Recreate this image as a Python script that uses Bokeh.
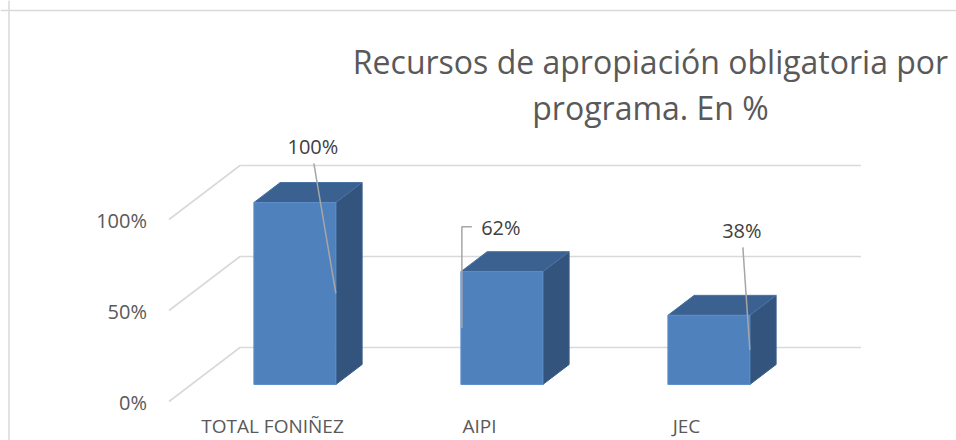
from bokeh.plotting import figure
from bokeh.models import Range1d, Span
from bokeh.core.properties import value
from bokeh.embed import file_html
from bokeh.resources import INLINE

# ---------------- data ----------------
categories = ["TOTAL FONIÑEZ", "AIPI", "JEC"]
shares = [1.00, 0.62, 0.38]
value_labels = ["100%", "62%", "38%"]
y_ticks = [0.0, 0.5, 1.0]
y_tick_labels = ["0%", "50%", "100%"]
title_lines = ["Recursos de apropiación obligatoria por", "programa. En %"]

# ---------------- geometry / style ----------------
W, H = 956, 440
PX_X = 207.0          # px per category unit
PX_Y = 182.0          # px per 100 %
X0 = 272.0            # canvas x of category 0 (front of floor)
Y0 = 401.0            # canvas y of value 0 (front of floor)
x_start, x_end = -X0 / PX_X, (W - X0) / PX_X
y_start, y_end = -(H - Y0) / PX_Y, Y0 / PX_Y

DX, DY = 71 / PX_X, 54 / PX_Y   # full depth of the 3D box
F0, F1 = 0.315, 0.685           # bar depth (front, back)
HW = 0.198                      # half bar width
CAT_MIN, CAT_MAX = -0.5, len(categories) - 0.5

# label offsets from bar's front-top centre, in px (right, up)
label_offsets = [(18, 56), (-1, 44), (33, 85)]
leader_kind = ["straight", "elbow", "straight"]

FRONT, TOP, SIDE = "#4F81BD", "#3B6190", "#32547D"
GRID = "#D9D9D9"
TXT = "#595959"
FONT = "Open Sans"


def P(u, v, f):
    return u + f * DX, v + f * DY


p = figure(width=W, height=H, output_backend="svg", toolbar_location=None,
           x_range=Range1d(x_start, x_end), y_range=Range1d(y_start, y_end),
           x_axis_type=None, y_axis_type=None,
           min_border=0, min_border_left=0, min_border_right=0,
           min_border_top=0, min_border_bottom=0)
p.outline_line_color = None
p.background_fill_color = "white"
p.border_fill_color = "white"
p.grid.visible = False

# chart-area border (top and left visible)
p.add_layout(Span(location=y_end - 10 / PX_Y, dimension="width",
                  line_color=GRID, line_width=1.5))
p.add_layout(Span(location=x_start + 8.5 / PX_X, dimension="height",
                  line_color=GRID, line_width=1.5))

# gridlines: back wall + side wall
gx, gy = [], []
for t in y_ticks:
    a = P(CAT_MIN, t, 1)
    b = P(CAT_MAX, t, 1)
    c = P(CAT_MIN, t, 0)
    gx.append([c[0], a[0], b[0]])
    gy.append([c[1], a[1], b[1]])
p.multi_line(gx, gy, line_color=GRID, line_width=1.6)

# bars
fx, fy, tx, ty, sx, sy = [], [], [], [], [], []
for i, val in enumerate(shares):
    l, r = i - HW, i + HW
    pts = [P(l, 0, F0), P(r, 0, F0), P(r, val, F0), P(l, val, F0)]
    fx.append([q[0] for q in pts]); fy.append([q[1] for q in pts])
    pts = [P(l, val, F0), P(r, val, F0), P(r, val, F1), P(l, val, F1)]
    tx.append([q[0] for q in pts]); ty.append([q[1] for q in pts])
    pts = [P(r, 0, F0), P(r, 0, F1), P(r, val, F1), P(r, val, F0)]
    sx.append([q[0] for q in pts]); sy.append([q[1] for q in pts])
p.patches(sx, sy, fill_color=SIDE, line_color="#3A5F8C", line_width=1)
p.patches(tx, ty, fill_color=TOP, line_color="#4A73A6", line_width=1)
p.patches(fx, fy, fill_color=FRONT, line_color="#5E8FCB", line_width=1)

# data labels + leader lines
lx, ly, lxs, lys = [], [], [], []
for i, val in enumerate(shares):
    ax, ay = P(i, val, F0)
    ox, oy = label_offsets[i]
    cx, cy = ax + ox / PX_X, ay + oy / PX_Y
    lx.append(cx); ly.append(cy)
    if leader_kind[i] == "elbow":
        ex, ey = P(i - HW, val / 2, F0)
        sx0, sy0 = cx - 29 / PX_X, cy + 1 / PX_Y
        lxs.append([sx0, ex + 1 / PX_X, ex + 1 / PX_X])
        lys.append([sy0, sy0, ey])
    else:
        ex, ey = P(i + HW, val / 2, F0)
        lxs.append([cx + 1 / PX_X, ex])
        lys.append([cy - 17 / PX_Y, ey])
p.multi_line(lxs, lys, line_color="#A6A6A6", line_width=1.5)
p.text(lx, ly, text=value_labels, text_align="center", text_baseline="middle",
       text_font=value(FONT), text_font_size="20px", text_color="#404040")

# y tick labels (front-left edge)
p.text([P(CAT_MIN, 0, 0)[0] - 22 / PX_X] * len(y_ticks),
       [t - 1 / PX_Y for t in y_ticks], text=y_tick_labels,
       text_align="right", text_baseline="middle",
       text_font=value(FONT), text_font_size="20px", text_color=TXT)

# category labels (front of floor)
p.text(list(range(len(categories))), [-24 / PX_Y] * len(categories),
       text=categories, text_align="center", text_baseline="middle",
       text_font=value(FONT), text_font_size="19px", text_color=TXT)

# title
tcx = (650 - X0) / PX_X
p.text([tcx, tcx], [(Y0 - 61) / PX_Y, (Y0 - 107) / PX_Y], text=title_lines,
       text_align="center", text_baseline="middle",
       text_font=value(FONT), text_font_size="32px", text_color=TXT)

open("out.html", "w").write(file_html(p, INLINE))
